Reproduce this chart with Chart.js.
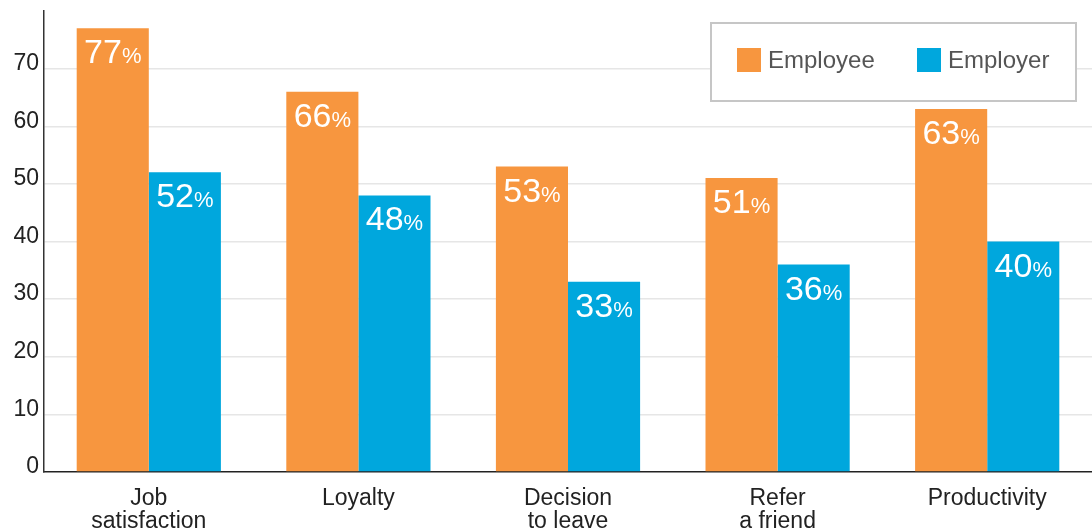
<!DOCTYPE html>
<html>
<head>
<meta charset="utf-8">
<script src="https://cdn.jsdelivr.net/npm/chart.js@4/dist/chart.umd.min.js"></script>
<style>
  html, body { margin: 0; padding: 0; background: #fff; }
  #wrap { width: 1092px; height: 529px; position: relative; }
</style>
</head>
<body>
<div id="wrap"><canvas id="chart"></canvas></div>
<script>
// chart values
const categories = [['Job', 'satisfaction'], 'Loyalty', ['Decision', 'to leave'], ['Refer', 'a friend'], 'Productivity'];
const employeeValues = [77, 66, 53, 51, 63];
const employerValues = [52, 48, 33, 36, 40];
const seriesNames = ['Employee', 'Employer'];
const seriesColors = ['#f7963f', '#00a7dd'];
const yMax = 80;
const yStep = 10;

const FONT = "'Helvetica Neue', 'Liberation Sans', Arial, sans-serif";

// Percent labels inside the top of every bar
const barLabels = {
    id: 'barLabels',
    afterDatasetsDraw(chart) {
        const ctx = chart.ctx;
        ctx.save();
        chart.data.datasets.forEach((ds, di) => {
            chart.getDatasetMeta(di).data.forEach((bar, i) => {
                const num = String(ds.data[i]);
                ctx.font = `300 34px ${FONT}`;
                const wNum = ctx.measureText(num).width;
                ctx.font = `300 22px ${FONT}`;
                const wPct = ctx.measureText('%').width;
                const x0 = bar.x - (wNum + wPct) / 2;
                const base = bar.y + 35;
                ctx.fillStyle = '#fff';
                ctx.textBaseline = 'alphabetic';
                ctx.textAlign = 'left';
                ctx.font = `300 34px ${FONT}`;
                ctx.fillText(num, x0, base);
                ctx.font = `300 22px ${FONT}`;
                ctx.fillText('%', x0 + wNum, base);
            });
        });
        ctx.restore();
    }
};

// Boxed legend sitting inside the plot, top right
const boxLegend = {
    id: 'boxLegend',
    afterDraw(chart) {
        const ctx = chart.ctx;
        const left = 711, top = 23, w = 365, h = 78;
        ctx.save();
        ctx.fillStyle = '#fff';
        ctx.fillRect(left, top, w, h);
        ctx.strokeStyle = '#c6c6c6';
        ctx.lineWidth = 2;
        ctx.strokeRect(left, top, w, h);
        const starts = [737, 917];
        ctx.font = `24px ${FONT}`;
        ctx.textBaseline = 'middle';
        ctx.textAlign = 'left';
        chart.data.datasets.forEach((ds, i) => {
            ctx.fillStyle = ds.backgroundColor;
            ctx.fillRect(starts[i], 48, 24, 24);
            ctx.fillStyle = '#555';
            ctx.fillText(ds.label, starts[i] + 31, 61);
        });
        ctx.restore();
    }
};

new Chart(document.getElementById('chart'), {
    type: 'bar',
    data: {
        labels: categories,
        datasets: [
            { label: seriesNames[0], data: employeeValues, backgroundColor: seriesColors[0] },
            { label: seriesNames[1], data: employerValues, backgroundColor: seriesColors[1] }
        ]
    },
    options: {
        responsive: true,
        maintainAspectRatio: false,
        animation: false,
        layout: { padding: { top: 11, right: 0, left: 0, bottom: 0 } },
        datasets: { bar: { categoryPercentage: 0.688, barPercentage: 1.0, borderWidth: 0 } },
        plugins: {
            legend: { display: false },
            tooltip: { enabled: false }
        },
        scales: {
            x: {
                grid: { display: false, drawTicks: false },
                border: { display: true, color: '#222', width: 1.5 },
                ticks: {
                    color: '#222',
                    padding: 15,
                    maxRotation: 0,
                    autoSkip: false,
                    font: { family: FONT, size: 23, lineHeight: 1.0 }
                },
                afterFit(scale) { scale.height = 57; }
            },
            y: {
                min: 0,
                max: yMax,
                grid: {
                    drawTicks: false,
                    lineWidth: 1.5,
                    color: c => c.tick.value === 0 ? 'rgba(0,0,0,0)' : '#e6e6e6'
                },
                border: { display: true, color: '#333', width: 1.5 },
                ticks: {
                    stepSize: yStep,
                    color: '#222',
                    padding: 5,
                    labelOffset: -5,
                    // small line height so the labels do not push the plot down
                    font: { family: FONT, size: 23, lineHeight: 0.5 }
                },
                // top of the axis is 80 but it carries no label or grid line
                afterBuildTicks(scale) {
                    scale.ticks = scale.ticks.filter(t => t.value < yMax);
                },
                afterFit(scale) { scale.width = 44; }
            }
        }
    },
    plugins: [barLabels, boxLegend]
});
</script>
</body>
</html>
